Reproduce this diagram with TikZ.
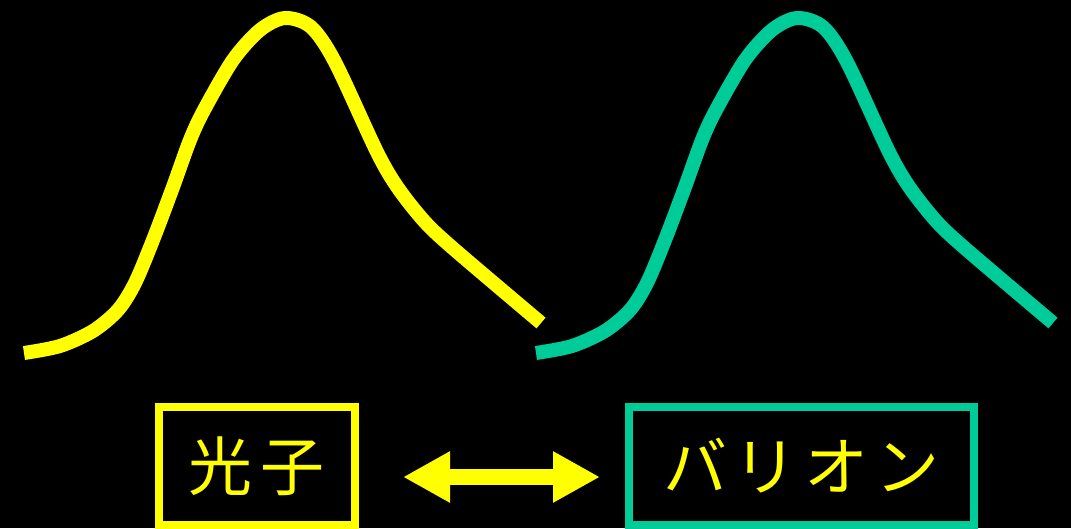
\documentclass[tikz,border=0pt]{standalone}
\usepackage{fontspec}
\newfontfamily\cjk{Noto Sans CJK JP}
\usetikzlibrary{arrows.meta}
\definecolor{pyellow}{HTML}{FFFF00}
\definecolor{pteal}{HTML}{00CC99}
\tikzset{
  bell/.pic={\draw[line width=14pt, line cap=butt, line join=round]
    plot[smooth, tension=0.5] coordinates {(24,353) (60,346) (93,331) (118,310) (135,283) (153,240) (173,187) (190,140) (204,110) (233,60) (260,30) (285,18) (311,27) (335,62) (377,152) (398,188) (425,222) (455,250) (541,323)};},
  labelbox/.style={draw, line width=8pt, minimum height=118pt, inner sep=0pt,
    text=pyellow, font=\cjk\fontsize{64}{64}\selectfont},
}
\begin{document}
\begin{tikzpicture}[x=1pt,y=-1pt]
\fill[black] (0,0) rectangle (1071,528);
\useasboundingbox (0,0) rectangle (1071,528);
\pic[color=pyellow] at (0,0) {bell};
\pic[color=pteal] at (512,0) {bell};
\node[labelbox, draw=pyellow, minimum width=195.5pt] (photon) at (256.75,466) {光\hspace{8pt}子};
\node[labelbox, draw=pteal, minimum width=345pt] (baryon) at (801.5,466) {バ\hspace{7pt}リ\hspace{7pt}オ\hspace{7pt}ン};
\coordinate (al) at (403,477);
\coordinate (ar) at (600,477);
\draw[pyellow, line width=16pt, {Triangle[length=47pt,width=48pt]}-{Triangle[length=47pt,width=48pt]}] (al) -- (ar);
\end{tikzpicture}
\end{document}
